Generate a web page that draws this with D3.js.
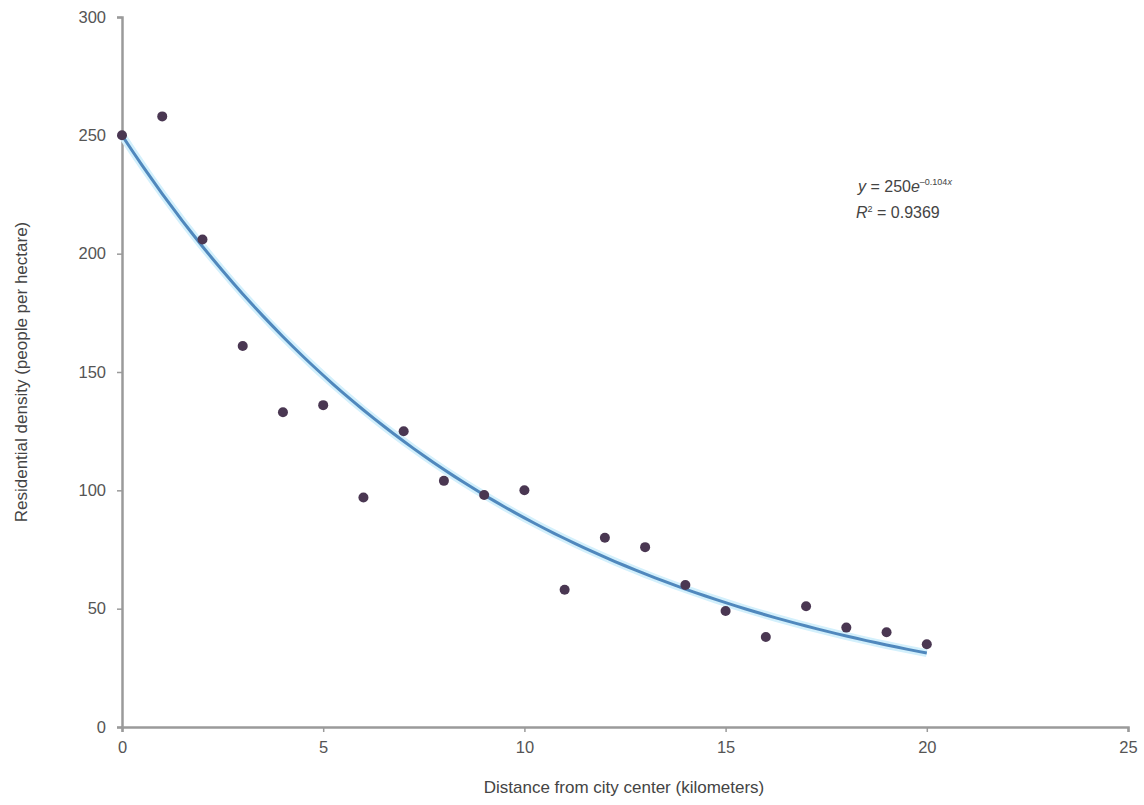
<!DOCTYPE html>
<html>
<head>
<style>
body { margin: 0; background: #fff; }
text { font-family: "Liberation Sans", Arial, sans-serif; }
</style>
</head>
<body>
<script src="https://cdn.jsdelivr.net/npm/d3@7"></script>
<script>
// data
var distance = [0,1,2,3,4,5,6,7,8,9,10,11,12,13,14,15,16,17,18,19,20];
var density = [250,258,206,161,133,136,97,125,104,98,100,58,80,76,60,49,38,51,42,40,35];
var xTicks = [0,5,10,15,20,25];
var yTicks = [0,50,100,150,200,250,300];
// fitted trend y = a * e^(b x)
var fitA = 250, fitB = -0.104;

var W = 1144, H = 805;
var svg = d3.select("body").append("svg")
    .attr("width", W).attr("height", H);

var x = d3.scaleLinear().domain([0, 25]).range([122, 1128]);
var y = d3.scaleLinear().domain([0, 300]).range([727, 17]);

var axisColor = "#9a9a9a", textColor = "#555";

// axes
var gx = svg.append("g").attr("transform", "translate(0,727)")
    .call(d3.axisBottom(x).tickValues(xTicks).tickSize(5).tickPadding(9));
var gy = svg.append("g").attr("transform", "translate(122,0)")
    .call(d3.axisLeft(y).tickValues(yTicks).tickSize(5).tickPadding(11));
[gx, gy].forEach(function(g) {
    g.select(".domain").attr("stroke", axisColor).attr("stroke-width", 2.5);
    g.selectAll(".tick line").attr("stroke", axisColor).attr("stroke-width", 1.5);
    g.selectAll(".tick text").attr("fill", textColor).style("font-size", "16.5px")
        .style("font-family", '"Liberation Sans", Arial, sans-serif');
});

// trend line
var curve = d3.range(0, 20.01, 0.25).map(function(d) { return [d, fitA * Math.exp(fitB * d)]; });
var line = d3.line().x(function(d) { return x(d[0]); }).y(function(d) { return y(d[1]); });
svg.append("path").datum(curve).attr("d", line)
    .attr("fill", "none").attr("stroke", "#d3f0fc").attr("stroke-width", 8);
svg.append("path").datum(curve).attr("d", line)
    .attr("fill", "none").attr("stroke", "#5088bd").attr("stroke-width", 3);

// points
svg.selectAll(".pt").data(distance).enter().append("circle")
    .attr("class", "pt")
    .attr("cx", function(d) { return x(d); })
    .attr("cy", function(d, i) { return y(density[i]); })
    .attr("r", 5)
    .attr("fill", "#4a3752");

// equation
var eq = svg.append("text").attr("x", 858).attr("y", 192)
    .attr("fill", "#444").style("font-size", "16px");
eq.append("tspan").style("font-style", "italic").text("y");
eq.append("tspan").text(" = 250");
eq.append("tspan").style("font-style", "italic").text("e");
eq.append("tspan").attr("dy", -7).style("font-size", "9px").text("–0.104");
eq.append("tspan").style("font-size", "9px").style("font-style", "italic").text("x");
var r2 = svg.append("text").attr("x", 856).attr("y", 218)
    .attr("fill", "#444").style("font-size", "16px");
r2.append("tspan").style("font-style", "italic").text("R");
r2.append("tspan").attr("dy", -6).style("font-size", "9px").text("2");
r2.append("tspan").attr("dy", 6).text(" = 0.9369");

// axis titles
svg.append("text").attr("x", 624).attr("y", 793)
    .attr("text-anchor", "middle").attr("fill", "#444").style("font-size", "17px")
    .text("Distance from city center (kilometers)");
svg.append("text").attr("transform", "translate(27,372) rotate(-90)")
    .attr("text-anchor", "middle").attr("fill", "#444").style("font-size", "17px")
    .text("Residential density (people per hectare)");
</script>
</body>
</html>
